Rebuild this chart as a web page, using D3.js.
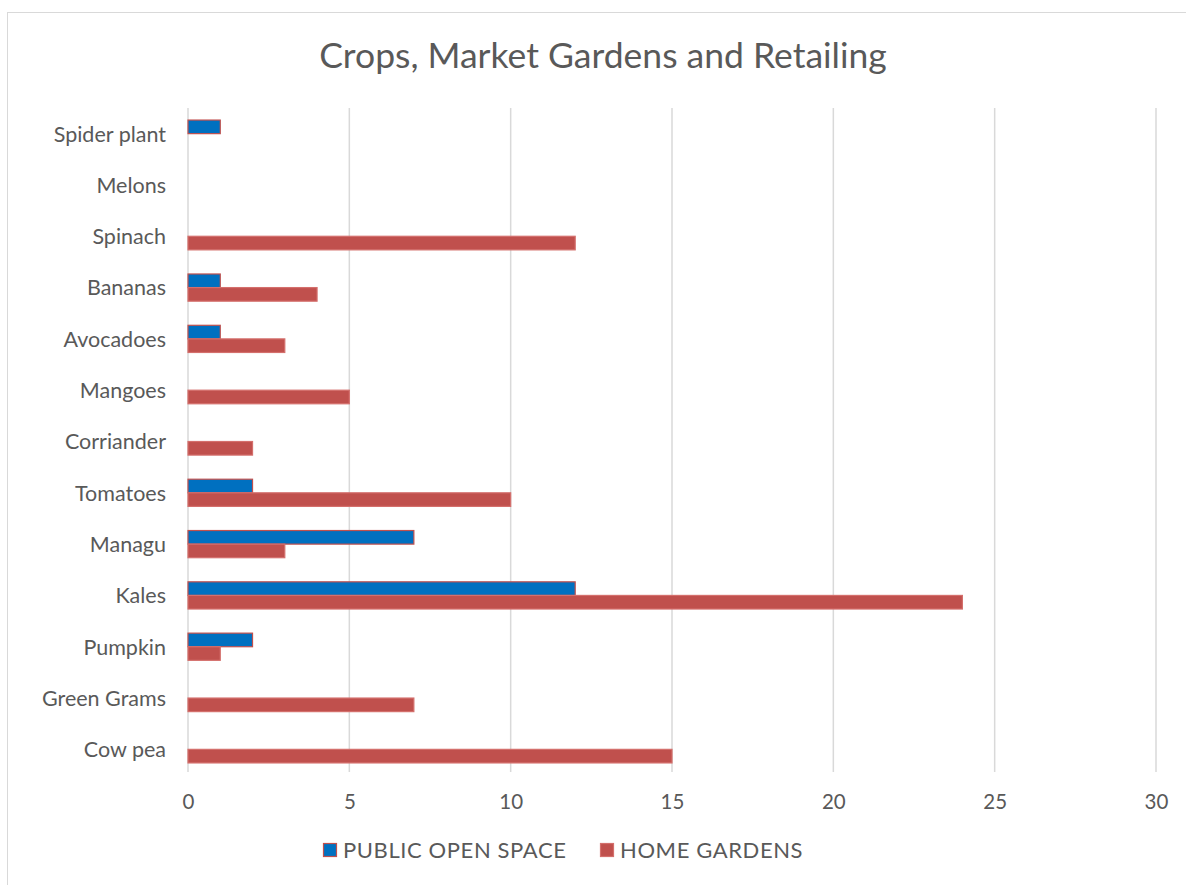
<!DOCTYPE html>
<html><head><meta charset="utf-8">
<script src="https://cdn.jsdelivr.net/npm/d3@7"></script>
<style>body{margin:0;background:#fff}svg{display:block}text{font-family:Lato,"Open Sans",sans-serif;fill:#595959}</style>
</head><body><svg id="c" width="1186" height="885"></svg>
<script>
const categories = ["Spider plant","Melons","Spinach","Bananas","Avocadoes","Mangoes","Corriander","Tomatoes","Managu","Kales","Pumpkin","Green Grams","Cow pea"];
const publicOpenSpace = [1,0,0,1,1,0,0,2,7,12,2,0,0];
const homeGardens = [0,0,12,4,3,5,2,10,3,24,1,7,15];
const seriesNames = ["PUBLIC OPEN SPACE","HOME GARDENS"];
const xTicks = [0,5,10,15,20,25,30];

const svg = d3.select("#c");
svg.append("rect").attr("x",7.5).attr("y",12.5).attr("width",1190).attr("height",890)
  .attr("fill","#fff").attr("stroke","#d9d9d9");
svg.append("text").attr("x",603).attr("y",68).attr("text-anchor","middle")
  .attr("font-size",35.5).text("Crops, Market Gardens and Retailing");

const L=188, R=1156, T=108, B=775;
const x = d3.scaleLinear().domain([0,30]).range([L,R]);
const y = d3.scaleBand().domain(categories).range([T,B]).paddingInner(0.47).paddingOuter(0.235);
const sub = d3.scaleBand().domain(seriesNames).range([0,y.bandwidth()]);

svg.append("g").selectAll("line").data(xTicks).join("line")
  .attr("x1",d=>x(d)).attr("x2",d=>x(d)).attr("y1",T).attr("y2",772)
  .attr("stroke","#d9d9d9").attr("stroke-width",1.5);

const colors = {"PUBLIC OPEN SPACE":"#0070c0","HOME GARDENS":"#c0504d"};
const strokes = {"PUBLIC OPEN SPACE":"#c0504d","HOME GARDENS":"#d46f6c"};
const rows = [];
categories.forEach((c,i)=>{
  rows.push({c, s:seriesNames[0], v:publicOpenSpace[i]});
  rows.push({c, s:seriesNames[1], v:homeGardens[i]});
});
svg.append("g").selectAll("rect").data(rows.filter(d=>d.v>0)).join("rect")
  .attr("x",x(0)).attr("y",d=>y(d.c)+sub(d.s))
  .attr("width",d=>x(d.v)-x(0)).attr("height",sub.bandwidth())
  .attr("fill",d=>colors[d.s]).attr("stroke",d=>strokes[d.s]).attr("stroke-width",1.2);

const yAxis = svg.append("g").attr("transform",`translate(${L},1)`)
  .call(d3.axisLeft(y).tickSize(0).tickPadding(22));
yAxis.select(".domain").remove();
yAxis.selectAll("text").attr("font-size",21.5).attr("fill","#595959").style("font-family","Lato,'Open Sans',sans-serif");

const xAxis = svg.append("g").attr("transform",`translate(0,794)`)
  .call(d3.axisBottom(x).tickValues(xTicks).tickSize(0).tickPadding(0));
xAxis.select(".domain").remove();
xAxis.selectAll("text").attr("font-size",20.5).attr("fill","#595959").style("font-family","Lato,'Open Sans',sans-serif");

const legX = [323, 600];
const lg = svg.append("g");
seriesNames.forEach((s,i)=>{
  lg.append("rect").attr("x",legX[i]+0.5).attr("y",843.5).attr("width",13).attr("height",13)
    .attr("fill",colors[s]).attr("stroke",strokes[s]).attr("stroke-width",1.2);
  lg.append("text").attr("x",legX[i]+20).attr("y",858).attr("font-size",22).attr("letter-spacing",0.6).text(s);
});
</script></body></html>
